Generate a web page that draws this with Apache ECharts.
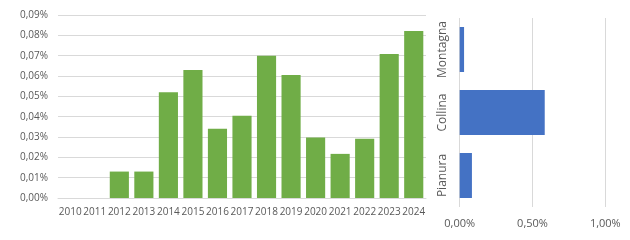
<!DOCTYPE html>
<html><head><meta charset="utf-8">
<script src="https://cdn.jsdelivr.net/npm/echarts@6/dist/echarts.min.js"></script>
<style>html,body{margin:0;padding:0;background:#fff}#c{width:630px;height:240px}</style>
</head><body><div id="c"></div>
<script>
const years = ['2010','2011','2012','2013','2014','2015','2016','2017','2018','2019','2020','2021','2022','2023','2024'];
const yearValues = [0, 0, 0.013, 0.013, 0.052, 0.063, 0.034, 0.0404, 0.070, 0.0605, 0.0298, 0.0217, 0.0291, 0.0708, 0.0821];
const zones = ['Pianura', 'Collina', 'Montagna'];
const zoneValues = [0.084, 0.584, 0.03];

const fmt = v => v.toFixed(2).replace('.', ',') + '%';
const txt = {color: '#595959', fontFamily: 'Open Sans', fontSize: 10};
const chart = echarts.init(document.getElementById('c'));
chart.setOption({
  animation: false,
  grid: [
    {left: 58, width: 368, top: 15, height: 183},
    {left: 459.7, width: 145.6, top: 18, height: 189}
  ],
  xAxis: [
    {gridIndex: 0, type: 'category', data: years, axisLine: {show: true, lineStyle: {color: '#d9d9d9'}}, axisTick: {show: false},
     axisLabel: Object.assign({margin: 9, interval: 0}, txt)},
    {gridIndex: 1, type: 'value', min: 0, max: 1, interval: 0.5, axisLine: {show: false}, axisTick: {show: false},
     splitLine: {lineStyle: {color: '#d9d9d9'}}, axisLabel: Object.assign({margin: 11, formatter: fmt}, txt, {fontSize: 11})}
  ],
  yAxis: [
    {gridIndex: 0, type: 'value', min: 0, max: 0.09, interval: 0.01, axisLine: {show: false}, axisTick: {show: false},
     splitLine: {lineStyle: {color: '#d9d9d9'}}, axisLabel: Object.assign({margin: 10, formatter: fmt}, txt)},
    {gridIndex: 1, type: 'category', data: zones, axisLine: {show: false}, axisTick: {show: false},
     axisLabel: Object.assign({margin: 11, rotate: 90, interval: 0}, txt, {fontSize: 12})}
  ],
  series: [
    {type: 'bar', xAxisIndex: 0, yAxisIndex: 0, data: yearValues, barCategoryGap: '22%', itemStyle: {color: '#70ad47'}},
    {type: 'bar', xAxisIndex: 1, yAxisIndex: 1, data: zoneValues, barCategoryGap: '28.6%', itemStyle: {color: '#4472c4'}}
  ]
});
</script></body></html>
